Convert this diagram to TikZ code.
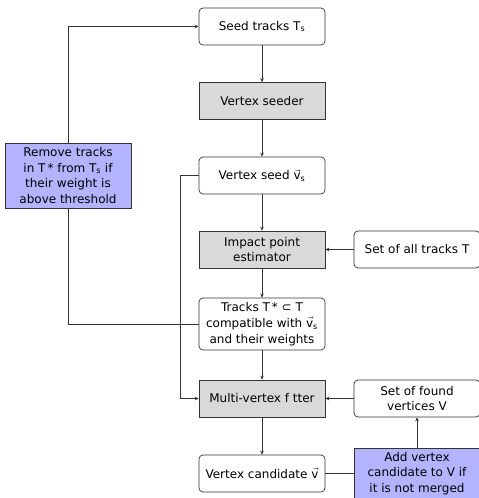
\documentclass[tikz,border=0pt]{standalone}
\usepackage{fontspec}
\setmainfont{DejaVu Sans}
\usepackage{amsmath}
\usetikzlibrary{arrows.meta, positioning}
\definecolor{fcGrey}{HTML}{D9D9D9}
\definecolor{fcBlue}{HTML}{B3B3FF}
\definecolor{fcLine}{HTML}{333333}
\tikzset{
  flow/.style     = {-{Stealth[length=4pt, width=3.6pt]}, line width=0.7pt, fcLine},
  link/.style     = {line width=0.7pt, fcLine},
  databox/.style  = {draw=fcLine, line width=0.7pt, rounded corners=4pt, align=center,
                     minimum width=126pt, minimum height=37pt, inner sep=1pt,
                     font=\fontsize{12}{15.7}\selectfont},
  algobox/.style  = {databox, rounded corners=0pt, fill=fcGrey},
  actbox/.style   = {databox, rounded corners=0pt, fill=fcBlue},
}
\newcommand{\vs}{$\vec{\text{v}}_{\text{s}}$}

\begin{document}
\begin{tikzpicture}[x=1pt, y=-1pt]
  \useasboundingbox (0,0) rectangle (479,498);
  % main chain
  \node[databox] (seed)   at (262,26.5)  {Seed tracks T\textsubscript{s}};
  \node[algobox] (seeder) at (262,101)   {Vertex seeder};
  \node[databox] (vseed)  at (262,175.5) {Vertex seed \vs};
  \node[algobox] (ipe)    at (262,249.5) {Impact point\\estimator};
  \node[databox, minimum height=52pt] (tstar) at (262,324)
        {Tracks T\,* ⊂ T\\compatible with \vs\\and their weights};
  \node[algobox] (mvf)    at (262,398.5) {Multi-vertex f tter};
  \node[databox] (cand)   at (262,473.5) {Vertex candidate $\vec{\text{v}}$};
  % side boxes
  \node[databox] (alltr)  at (417,249.5) {Set of all tracks T};
  \node[databox] (found)  at (417,398.5) {Set of found\\vertices V};
  \node[actbox, minimum height=51pt] (addv) at (417,473.5)
        {Add vertex\\candidate to V if\\it is not merged};
  \node[actbox, minimum height=65pt] (remove) at (68,175.5)
        {Remove tracks\\in T\,* from T\textsubscript{s} if\\their weight is\\above threshold};
  \coordinate (tap) at (180,175.5);

  \draw[flow] (seed) -- (seeder);
  \draw[flow] (seeder) -- (vseed);
  \draw[flow] (vseed) -- (ipe);
  \draw[flow] (ipe) -- (tstar);
  \draw[flow] (tstar) -- (mvf);
  \draw[flow] (mvf) -- (cand);
  \draw[flow] (alltr) -- (ipe);
  \draw[flow] (found) -- (mvf);
  \draw[link] (cand) -- (addv);
  \draw[flow] (addv) -- (found);
  % feedback loops
  \draw[flow] (vseed.west) -- (tap) |- (mvf.west);
  \draw[link] (tstar.west) -| (remove.south);
  \draw[flow] (remove.north) |- (seed.west);
\end{tikzpicture}
\end{document}
